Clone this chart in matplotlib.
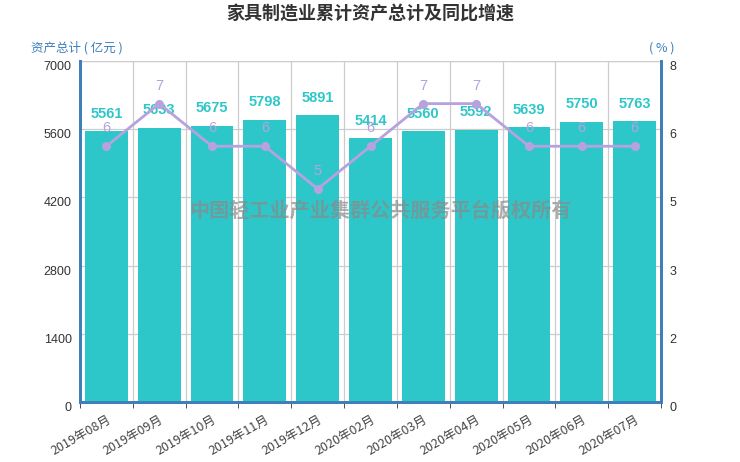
import numpy as np
import matplotlib
matplotlib.use("Agg")
import matplotlib.pyplot as plt
from matplotlib.ticker import FixedLocator, FixedFormatter

plt.rcParams['font.family'] = ['Noto Sans CJK SC', 'DejaVu Sans']

months = ['2019年08月', '2019年09月', '2019年10月', '2019年11月', '2019年12月',
          '2020年02月', '2020年03月', '2020年04月', '2020年05月', '2020年06月', '2020年07月']
assets = [5561, 5633, 5675, 5798, 5891, 5414, 5560, 5592, 5639, 5750, 5763]
growth = [6, 7, 6, 6, 5, 6, 7, 7, 6, 6, 6]

bar_color = '#2ec7c9'
line_color = '#b6a2de'
axis_color = '#3d7fb9'

fig = plt.figure(figsize=(7.4, 4.62), dpi=100)
ax = fig.add_axes([80 / 740, 1 - 402 / 462, 581 / 740, 341 / 462])
ax2 = ax.twinx()

x = np.arange(len(months))
ax.bar(x, assets, width=0.81, color=bar_color, zorder=3)
for xi, v in zip(x, assets):
    ax.annotate(str(v), (xi, v), xytext=(0, 7.5), textcoords='offset points',
                ha='center', va='bottom', color=bar_color, fontsize=10.5,
                fontweight='bold', family='Liberation Sans', zorder=5)

ax.set_xlim(-0.5, len(months) - 0.5)
ax.set_ylim(0, 7000)
ax.set_yticks([0, 1400, 2800, 4200, 5600, 7000])
ax.xaxis.set_major_locator(FixedLocator(x))
ax.xaxis.set_major_formatter(FixedFormatter(months))
ax.xaxis.set_minor_locator(FixedLocator(np.arange(len(months) + 1) - 0.5))
ax.tick_params(axis='x', which='major', length=0, labelsize=9, labelcolor='#444', pad=8)
ax.tick_params(axis='x', which='minor', length=4, color='#333', direction='out')
for lab in ax.get_xticklabels():
    lab.set_rotation(30)
    lab.set_ha('right')
    lab.set_rotation_mode('anchor')
ax.tick_params(axis='y', length=0, labelsize=9, labelcolor='#333', pad=6)
for lab in ax.get_yticklabels():
    lab.set_family('Liberation Sans')
    lab.set_va('top')
ax.grid(True, which='minor', axis='x', color='#cccccc', lw=0.9, zorder=0)
ax.grid(True, which='major', axis='y', color='#cccccc', lw=0.9, zorder=0)

ax2.plot(x, growth, color=line_color, lw=2, marker='o', ms=5.5, zorder=4)
for xi, v in zip(x, growth):
    ax2.annotate(str(v), (xi, v), xytext=(0, 8), textcoords='offset points',
                 ha='center', va='bottom', color=line_color, fontsize=10.5,
                 family='Liberation Sans', zorder=6)
ax2.set_ylim(0, 8)
r_ticks = [0, 1.6, 3.2, 4.8, 6.4, 8]
ax2.yaxis.set_major_locator(FixedLocator(r_ticks))
ax2.yaxis.set_major_formatter(FixedFormatter([str(int(round(t))) for t in r_ticks]))
ax2.tick_params(axis='y', length=0, labelsize=9, labelcolor='#333', pad=6)
for lab in ax2.get_yticklabels():
    lab.set_family('Liberation Sans')
    lab.set_va('top')

for a in (ax, ax2):
    a.spines['top'].set_visible(False)
    for side in ('left', 'right', 'bottom'):
        a.spines[side].set_color(axis_color)
        a.spines[side].set_linewidth(2)
ax.set_zorder(1)
ax2.set_zorder(2)
ax2.patch.set_visible(False)

# top border line of plot area
ax.axhline(7000, color='#cccccc', lw=0.9, zorder=0)

fig.text(370 / 740, 1 - 14 / 462, '家具制造业累计资产总计及同比增速', ha='center', va='center',
         fontsize=13, fontweight='bold', color='#333')
fig.text(31 / 740, 1 - 48 / 462, '资产总计 ( 亿元 )', ha='left', va='center',
         fontsize=9, color=axis_color)
fig.text(662 / 740, 1 - 48 / 462, '( % )', ha='center', va='center',
         fontsize=9, color=axis_color)

fig.text(380 / 740, 1 - 210 / 462, '中国轻工业产业集群公共服务平台版权所有', ha='center', va='center',
         fontsize=14.5, fontweight='bold', color='#8a8a8a', alpha=0.7, zorder=10)

fig.savefig('out.png', dpi=100)
